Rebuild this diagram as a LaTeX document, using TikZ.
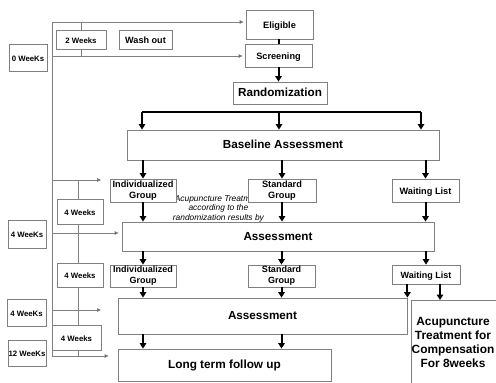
\documentclass[tikz,border=0pt]{standalone}
\usepackage{fontspec}
\setmainfont{Liberation Sans}
\usetikzlibrary{arrows.meta}
\tikzset{
  box/.style={draw=black!50, fill=white, line width=0.8pt, inner sep=0pt, align=center, font=\bfseries},
  fs/.style={font=\bfseries\fontsize{#1}{#1}\selectfont, text height=0.72em, text depth=0pt},
  tl/.style={draw=black!50, line width=0.8pt},
  tla/.style={tl, -{Triangle[length=4pt,width=3.5pt,fill=black]}},
  thk/.style={draw=black, line width=2pt},
  arr/.style={thk, -{Triangle[length=5.5pt,width=6.5pt]}},
}
\begin{document}
\begin{tikzpicture}[x=1pt,y=-1pt]
\useasboundingbox (0,0) rectangle (496,383);
% italic note (behind boxes)
\node[font=\itshape\fontsize{8.4}{9.3}\selectfont, align=center, inner sep=0pt] (note) at (218.4,208.8) {Acupuncture Treatment\\according to the\\randomization results by};
% main boxes
\node[box, fs=9.2, minimum width=67pt, minimum height=29pt] (elig) at (279.5,24.5) {Eligible};
\node[box, fs=9.2, minimum width=67pt, minimum height=23pt] (scr) at (278.5,55.5) {Screening};
\node[box, fs=11.7, minimum width=94pt, minimum height=22pt] (rand) at (280,93) {Randomization};
\node[box, fs=11.7, minimum width=312pt, minimum height=30pt] (base) at (283,145) {Baseline Assessment};
\node[box, font=\bfseries\fontsize{9.2}{11.5}\selectfont, minimum width=66pt, minimum height=23pt] (ind1) at (143,190.5) {Individualized\\Group};
\node[box, font=\bfseries\fontsize{9.2}{11.5}\selectfont, minimum width=68pt, minimum height=23pt] (std1) at (282,190.5) {Standard\\Group};
\node[box, fs=9.2, minimum width=67pt, minimum height=23pt] (wait1) at (425.5,190.5) {Waiting List};
\node[box, fs=11.7, minimum width=312pt, minimum height=29pt] (ass1) at (278,236.5) {Assessment};
\node[box, font=\bfseries\fontsize{9}{11}\selectfont, minimum width=66pt, minimum height=22pt] (ind2) at (143,276) {Individualized\\Group};
\node[box, font=\bfseries\fontsize{9}{11}\selectfont, minimum width=67pt, minimum height=22pt] (std2) at (281.5,276) {Standard\\Group};
\node[box, fs=9, minimum width=68pt, minimum height=19pt] (wait2) at (426,274.5) {Waiting List};
\node[box, fs=11.7, minimum width=289pt, minimum height=36pt] (ass2) at (262.5,316) {Assessment};
\node[box, fs=11.8, minimum width=213pt, minimum height=32pt] (lt) at (224.5,365) {Long term follow up};
\node[box, minimum width=90pt, minimum height=90pt, anchor=north west] (acu) at (411,300) {};
\node[font=\bfseries\fontsize{11.9}{14}\selectfont, align=center, inner sep=0pt] (acut) at (453,342.9) {Acupuncture\\Treatment for\\Compensation\\For 8weeks};
% left timeline boxes
\node[box, fs=7.8, minimum width=38pt, minimum height=27pt] (w0) at (28,57.5) {0 WeeKs};
\node[box, fs=7.8, minimum width=50pt, minimum height=19pt] (w2) at (81,39.5) {2 Weeks};
\node[box, fs=9.1, minimum width=53pt, minimum height=19pt] (wash) at (145.5,39.5) {Wash out};
\node[box, fs=7.8, minimum width=46pt, minimum height=25pt] (wk4a) at (80,211.5) {4 Weeks};
\node[box, fs=7.8, minimum width=38pt, minimum height=28pt] (w4a) at (27,234) {4 WeeKs};
\node[box, fs=7.8, minimum width=46pt, minimum height=24pt] (wk4b) at (80,275) {4 Weeks};
\node[box, fs=7.8, minimum width=39pt, minimum height=27pt] (w4b) at (26.5,312.5) {4 WeeKs};
\node[box, fs=7.8, minimum width=49pt, minimum height=25pt] (wk4c) at (76.5,337.5) {4 Weeks};
\node[box, fs=7.8, minimum width=38pt, minimum height=26pt] (w12) at (27,353) {12 WeeKs};
% timeline connectors
\coordinate (t0) at (52,22);
\coordinate (t1) at (52,56);
\coordinate (t2) at (52,180);
\coordinate (t3) at (52,233);
\coordinate (t4) at (52,310);
\coordinate (t5) at (52,356);
\coordinate (e2) at (101,180);
\coordinate (e4) at (101,310);
\coordinate (v0) at (78,180);
\coordinate (v5) at (78,356);
\coordinate (wx) at (440,0);
\draw[tl] (t0) -- (t5);
\draw[tla, shorten >=2pt] (t0) -- (elig.west |- t0);
\draw[tla, shorten >=2pt] (t1) -- (scr.west |- t1);
\draw[tl] (w2.north |- t0) -- (w2.north);
\draw[tl] (w2.south) -- (w2.south |- t1);
\draw[tla] (t2) -- (e2);
\draw[tla, shorten >=3pt] (t3) -- (ass1.west |- t3);
\draw[tla] (t4) -- (e4);
\draw[tla, shorten >=9pt] (t5) -- (lt.west |- t5);
\draw[tl] (v0) -- (v0 |- wk4a.north);
\draw[tl] (v0 |- wk4a.south) -- (v0 |- wk4b.north);
\draw[tl] (v0 |- wk4b.south) -- (v0 |- wk4c.north);
\draw[tl] (v0 |- wk4c.south) -- (v5);
% main flow
\draw[thk] (scr.north |- elig.south) -- (scr.north);
\draw[arr] (scr.south) -- (scr.south |- rand.north);
\coordinate (hl) at (142,112);
\coordinate (hm) at (279,112);
\coordinate (hr) at (421,112);
\draw[thk] (hl) -- (hr);
\draw[arr] (hl) -- (hl |- base.north);
\draw[arr] (hm) -- (hm |- base.north);
\draw[arr] (hr) -- (hr |- base.north);
\draw[arr] (ind1.north |- base.south) -- (ind1.north);
\draw[arr] (std1.north |- base.south) -- (std1.north);
\draw[arr] (wait1.north |- base.south) -- (wait1.north);
\draw[arr] (ind1.south) -- (ind1.south |- ass1.north);
\draw[arr] (std1.south) -- (std1.south |- ass1.north);
\draw[arr] (wait1.south) -- (wait1.south |- ass1.north);
\draw[arr] (ind2.north |- ass1.south) -- (ind2.north);
\draw[arr] (std2.north |- ass1.south) -- (std2.north);
\draw[arr] (wait2.north |- ass1.south) -- (wait2.north);
\draw[arr] (ind2.south) -- (ind2.south |- ass2.north);
\draw[arr] (std2.south) -- (std2.south |- ass2.north);
\draw[arr] (ass2.north east |- wait2.south) -- (ass2.north east);
\draw[arr] (wx |- wait2.south) -- (wx |- acu.north);
\draw[arr] (ind2.south |- ass2.south) -- (ind2.south |- lt.north);
\draw[arr] (std2.south |- ass2.south) -- (std2.south |- lt.north);
\end{tikzpicture}
\end{document}
